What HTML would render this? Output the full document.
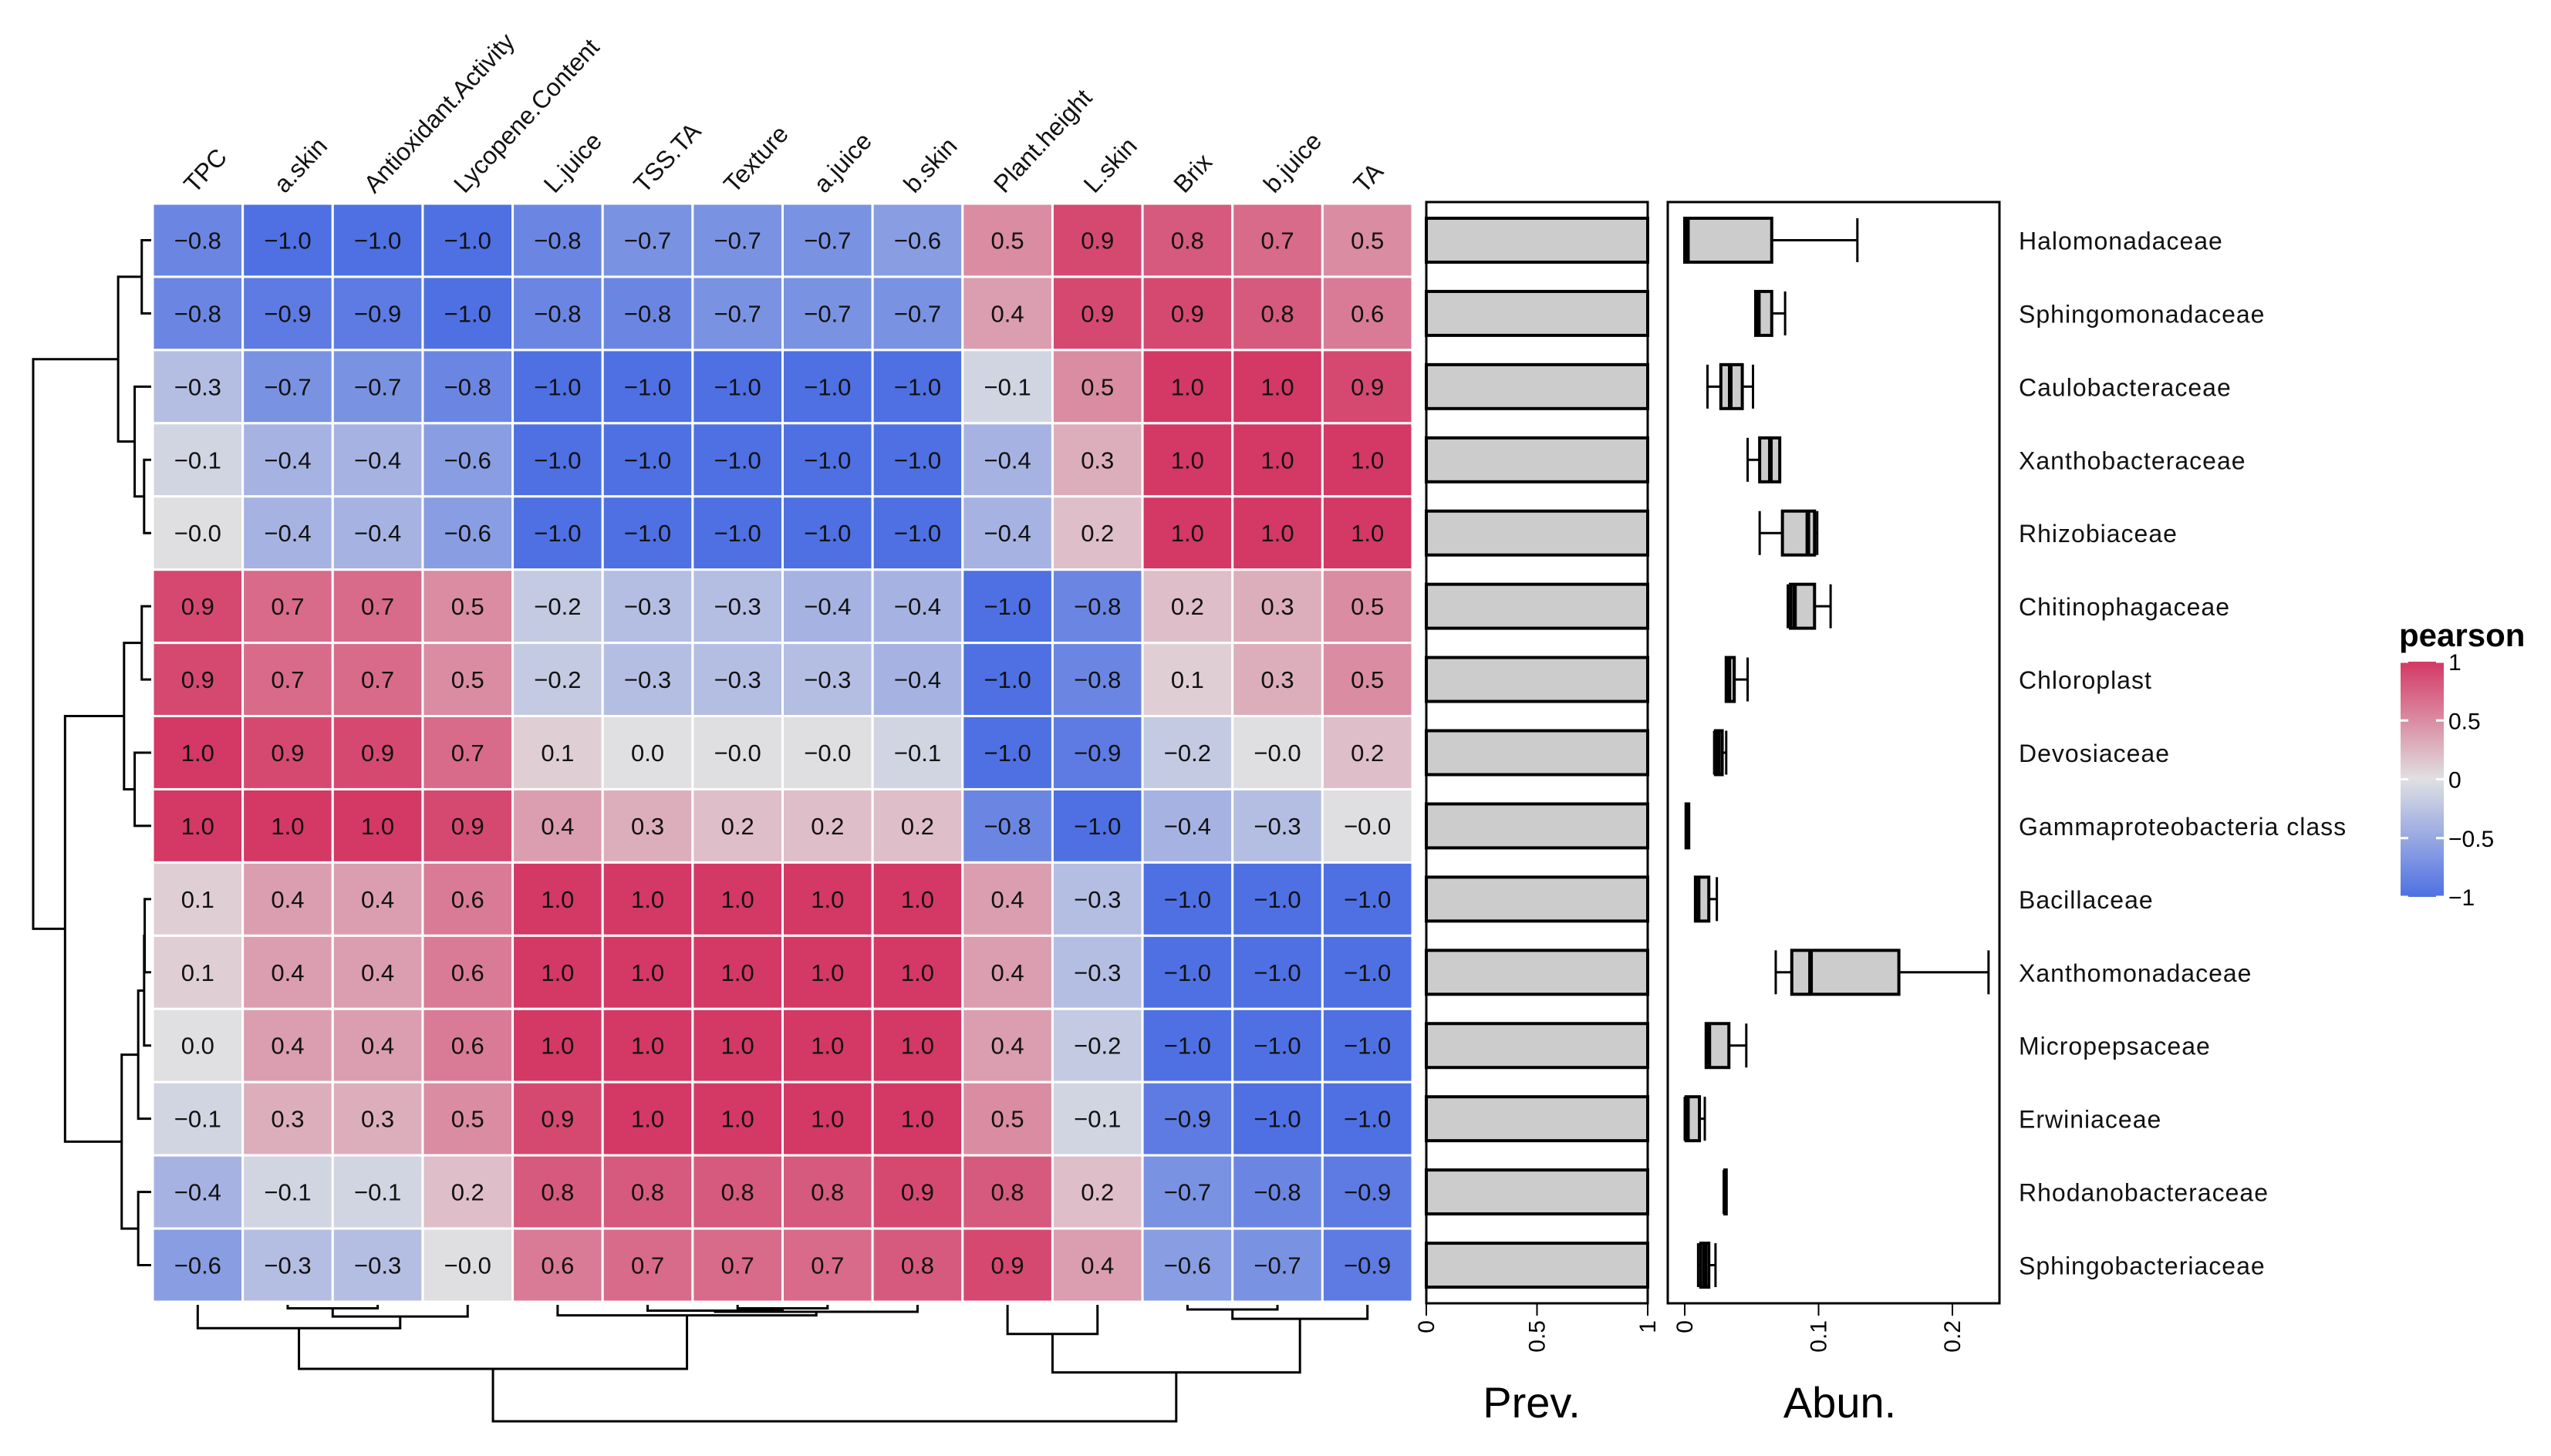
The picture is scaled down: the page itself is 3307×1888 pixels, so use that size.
<!DOCTYPE html>
<html><head><meta charset="utf-8"><style>
html,body{margin:0;padding:0;background:#fff}
svg{display:block}
text{font-family:"Liberation Sans",sans-serif}
</style></head><body>
<svg id="chart" width="3307" height="1888" viewBox="0 0 3307 1888" xmlns="http://www.w3.org/2000/svg"></svg>
<script>
const colLabels=["TPC","a.skin","Antioxidant.Activity","Lycopene.Content","L.juice","TSS.TA","Texture","a.juice","b.skin","Plant.height","L.skin","Brix","b.juice","TA"];
const rowLabels=["Halomonadaceae","Sphingomonadaceae","Caulobacteraceae","Xanthobacteraceae","Rhizobiaceae","Chitinophagaceae","Chloroplast","Devosiaceae","Gammaproteobacteria class","Bacillaceae","Xanthomonadaceae","Micropepsaceae","Erwiniaceae","Rhodanobacteraceae","Sphingobacteriaceae"];
const corr=[
[-0.8,-1.0,-1.0,-1.0,-0.8,-0.7,-0.7,-0.7,-0.6,0.5,0.9,0.8,0.7,0.5],
[-0.8,-0.9,-0.9,-1.0,-0.8,-0.8,-0.7,-0.7,-0.7,0.4,0.9,0.9,0.8,0.6],
[-0.3,-0.7,-0.7,-0.8,-1.0,-1.0,-1.0,-1.0,-1.0,-0.1,0.5,1.0,1.0,0.9],
[-0.1,-0.4,-0.4,-0.6,-1.0,-1.0,-1.0,-1.0,-1.0,-0.4,0.3,1.0,1.0,1.0],
[-0.01,-0.4,-0.4,-0.6,-1.0,-1.0,-1.0,-1.0,-1.0,-0.4,0.2,1.0,1.0,1.0],
[0.9,0.7,0.7,0.5,-0.2,-0.3,-0.3,-0.4,-0.4,-1.0,-0.8,0.2,0.3,0.5],
[0.9,0.7,0.7,0.5,-0.2,-0.3,-0.3,-0.3,-0.4,-1.0,-0.8,0.1,0.3,0.5],
[1.0,0.9,0.9,0.7,0.1,0.0,-0.01,-0.01,-0.1,-1.0,-0.9,-0.2,-0.01,0.2],
[1.0,1.0,1.0,0.9,0.4,0.3,0.2,0.2,0.2,-0.8,-1.0,-0.4,-0.3,-0.01],
[0.1,0.4,0.4,0.6,1.0,1.0,1.0,1.0,1.0,0.4,-0.3,-1.0,-1.0,-1.0],
[0.1,0.4,0.4,0.6,1.0,1.0,1.0,1.0,1.0,0.4,-0.3,-1.0,-1.0,-1.0],
[0.0,0.4,0.4,0.6,1.0,1.0,1.0,1.0,1.0,0.4,-0.2,-1.0,-1.0,-1.0],
[-0.1,0.3,0.3,0.5,0.9,1.0,1.0,1.0,1.0,0.5,-0.1,-0.9,-1.0,-1.0],
[-0.4,-0.1,-0.1,0.2,0.8,0.8,0.8,0.8,0.9,0.8,0.2,-0.7,-0.8,-0.9],
[-0.6,-0.3,-0.3,-0.01,0.6,0.7,0.7,0.7,0.8,0.9,0.4,-0.6,-0.7,-0.9]];
const prevalence=[1,1,1,1,1,1,1,1,1,1,1,1,1,1,1];
const abunMin=[0,0.053,0.017,0.047,0.056,0.077,0.031,0.022,0.001,0.008,0.068,0.016,0,0.030,0.010];
const abunQ1=[0,0.053,0.027,0.056,0.073,0.079,0.031,0.023,0.001,0.008,0.080,0.016,0.001,0.030,0.012];
const abunMed=[0.002,0.055,0.034,0.064,0.092,0.082,0.033,0.025,0.002,0.010,0.094,0.018,0.002,0.030,0.015];
const abunQ3=[0.065,0.065,0.043,0.071,0.097,0.097,0.037,0.028,0.003,0.018,0.160,0.033,0.011,0.031,0.018];
const abunMax=[0.129,0.075,0.051,0.071,0.099,0.109,0.047,0.031,0.003,0.024,0.227,0.046,0.015,0.031,0.023];
const prevTicks=[0,0.5,1];
const abunTicks=[0,0.1,0.2];
const legendTicks=[1,0.5,0,-0.5,-1];
const rowMerges=[[0,1,0.08],[3,4,0.06],[2,"m1",0.14],["m0","m2",0.28],[5,6,0.08],[7,8,0.14],["m4","m5",0.23],[9,10,0.055],["m7",11,0.06],["m8",12,0.11],[13,14,0.11],["m9","m10",0.25],["m6","m11",0.73],["m3","m12",1.0]];
const colMerges=[[1,2,0.03],["m0",3,0.1],[0,"m1",0.2],[6,7,0.03],[5,"m3",0.05],["m4",8,0.06],[4,"m5",0.09],["m2","m6",0.55],[9,10,0.25],[11,12,0.04],["m9",13,0.12],["m8","m10",0.58],["m7","m11",1.0]];

const svg=document.getElementById('chart');
const NS="http://www.w3.org/2000/svg";
function mk(tag,attrs,parent){const e=document.createElementNS(NS,tag);for(const k in attrs)e.setAttribute(k,attrs[k]);(parent||svg).appendChild(e);return e;}

const HX=198,HY=264,HW=1633,HH=1424;
const cw=HW/colLabels.length, rh=HH/rowLabels.length;
const colX=j=>HX+cw*j, rowY=i=>HY+rh*i;
function lerp(a,b,t){return a.map((v,k)=>Math.round(v+(b[k]-v)*t));}
function colorOf(v){const mid=[224,224,226],neg=[78,112,226],pos=[212,56,100];
 const c=v<0?lerp(mid,neg,Math.min(1,-v)):lerp(mid,pos,Math.min(1,v));return `rgb(${c[0]},${c[1]},${c[2]})`;}
function fmt(v){return v.toFixed(1).replace('-','\u2212');}

const gH=mk('g',{});


corr.forEach((row,i)=>row.forEach((v,j)=>{
 const r=mk('rect',{x:colX(j),y:rowY(i),width:cw,height:rh,fill:colorOf(v),stroke:'#fff','stroke-width':3},gH);
 
 
 const t=mk('text',{x:colX(j)+cw/2,y:rowY(i)+rh/2+11,'text-anchor':'middle','font-size':31,fill:'#111'},gH);
 
 
 t.textContent=fmt(v);
}));
colLabels.forEach((l,j)=>{
 const x=colX(j)+cw/2-4,y=252;
 const t=mk('text',{x:x,y:y,'font-size':32,transform:`rotate(-47 ${x} ${y})`,fill:'#111'});
 
 
 t.textContent=l;
});
const rowLeafPos=i=>rowY(i)+rh/2;
const rowXScale=h=>196-h*153;
function drawDendro(merges,leafPos,hScale,vertical,name){
 const g=mk('g',{fill:'none',stroke:'#000','stroke-width':3});
 
 
 const nodes=[];
 const get=id=>typeof id==='number'?{p:leafPos(id),h:0}:nodes[+id.slice(1)];
 merges.forEach(m=>{
  const a=get(m[0]),b=get(m[1]),hh=hScale(m[2]),ha=hScale(a.h),hb=hScale(b.h);
  let d;
  if(vertical) d=`M${ha},${a.p}H${hh}V${b.p}H${hb}`;
  else d=`M${a.p},${ha}V${hh}H${b.p}V${hb}`;
  const p=mk('path',{d:d},g);
  
  
  nodes.push({p:(a.p+b.p)/2,h:m[2]});
 });
}
drawDendro(rowMerges,rowLeafPos,rowXScale,true,'row-dendrogram');
drawDendro(colMerges,j=>colX(j)+cw/2,h=>1692+h*151,false,'column-dendrogram');

const PX=1849,PW=287,PY=262,PB=1690;
const pScale=v=>PX+v*PW;
const gP=mk('g',{});


const bh=rh*0.6;
prevalence.forEach((v,i)=>{
 const r=mk('rect',{x:PX,y:rowLeafPos(i)-bh/2,width:pScale(v)-PX,height:bh,fill:'#cccccc',stroke:'#000','stroke-width':4},gP);
 
 
});
mk('rect',{x:PX,y:PY,width:PW,height:PB-PY,fill:'none',stroke:'#000','stroke-width':3},gP);
prevTicks.forEach(v=>{
 mk('line',{x1:pScale(v),x2:pScale(v),y1:PB,y2:PB+16,stroke:'#000','stroke-width':2},gP);
 const x=pScale(v)+10,y=1712;
 const t=mk('text',{x:x,y:y,'font-size':30,'text-anchor':'end',transform:`rotate(-90 ${x} ${y})`},gP);
 
 
 t.textContent=String(v);
});
const tp=mk('text',{x:PX+PW/2-7,y:1838,'font-size':56,'text-anchor':'middle'});


tp.textContent='Prev.';

const AX=2162,AW=430;
const aScale=v=>2184+v*1735;
const gA=mk('g',{});


mk('rect',{x:AX,y:PY,width:AW,height:PB-PY,fill:'none',stroke:'#000','stroke-width':3},gA);
rowLabels.forEach((l,i)=>{
 const cy=rowLeafPos(i),y0=cy-bh/2,y1=cy+bh/2;
 const g=mk('g',{stroke:'#000','stroke-width':3},gA);
 
 
 mk('line',{x1:aScale(abunMin[i]),x2:aScale(abunQ1[i]),y1:cy,y2:cy},g);
 mk('line',{x1:aScale(abunQ3[i]),x2:aScale(abunMax[i]),y1:cy,y2:cy},g);
 mk('line',{x1:aScale(abunMin[i]),x2:aScale(abunMin[i]),y1:y0,y2:y1},g);
 mk('line',{x1:aScale(abunMax[i]),x2:aScale(abunMax[i]),y1:y0,y2:y1},g);
 mk('rect',{x:aScale(abunQ1[i]),y:y0,width:Math.max(1,aScale(abunQ3[i])-aScale(abunQ1[i])),height:bh,fill:'#cccccc','stroke-width':4},g);
 mk('line',{x1:aScale(abunMed[i]),x2:aScale(abunMed[i]),y1:y0,y2:y1,'stroke-width':6},g);
 const t=mk('text',{x:2617,y:cy+12,'font-size':32,'letter-spacing':1,fill:'#111'});
 
 
 t.textContent=l;
});
abunTicks.forEach(v=>{
 mk('line',{x1:aScale(v),x2:aScale(v),y1:PB,y2:PB+16,stroke:'#000','stroke-width':2},gA);
 const x=aScale(v)+10,y=1712;
 const t=mk('text',{x:x,y:y,'font-size':30,'text-anchor':'end',transform:`rotate(-90 ${x} ${y})`},gA);
 
 
 t.textContent=String(v);
});
const ta=mk('text',{x:2385,y:1838,'font-size':56,'text-anchor':'middle'});


ta.textContent='Abun.';

const LX=3112,LW=56,LT=858,LB=1163;
const lScale=v=>LT+(1-v)/2*(LB-LT);
const gL=mk('g',{});


const defs=mk('defs',{});
const grad=mk('linearGradient',{id:'lg',x1:0,y1:0,x2:0,y2:1},defs);
for(let k=0;k<=20;k++){const v=1-k/10;mk('stop',{offset:(k/20),'stop-color':colorOf(v)},grad);}
const lt=mk('text',{x:3110,y:838,'font-size':42,'font-weight':'bold'},gL);


lt.textContent='pearson';
mk('rect',{x:LX,y:LT,width:LW,height:LB-LT,fill:'url(#lg)'},gL);
legendTicks.forEach(v=>{
 const y=lScale(v);
 mk('line',{x1:LX,x2:LX+10,y1:y,y2:y,stroke:'#fff','stroke-width':3},gL);
 mk('line',{x1:LX+LW-10,x2:LX+LW,y1:y,y2:y,stroke:'#fff','stroke-width':3},gL);
 const t=mk('text',{x:LX+LW+6,y:y+11,'font-size':30},gL);
 
 
 t.textContent=String(v).replace('-','\u2212');
});
</script>
</body></html>
